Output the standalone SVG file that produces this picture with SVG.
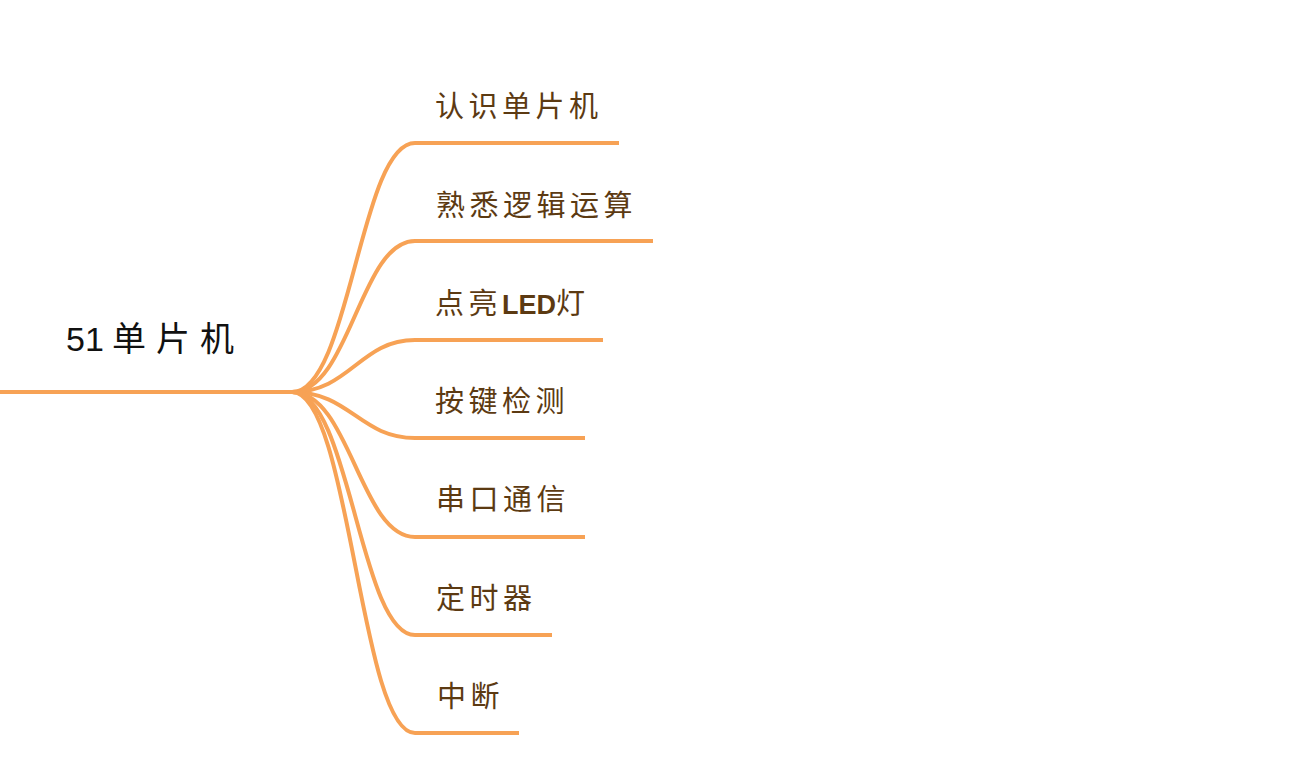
<svg xmlns="http://www.w3.org/2000/svg" width="1308" height="780" viewBox="0 0 1308 780">
<style>
.c{fill:none;stroke:#f7a255;stroke-width:4;stroke-linecap:butt}
.t{font-family:"Liberation Sans","Noto Sans CJK SC",sans-serif;font-size:29px;fill:#5c3a12;letter-spacing:4.5px}
.r{font-family:"Liberation Sans","Noto Sans CJK SC",sans-serif;font-size:34px;fill:#111}
</style>
<rect width="1308" height="780" fill="#fff"/>
<g id="connectors">
<path class="c" d="M0,392 H294"/>
<path class="c" d="M292,392 C350,392 360,143 415,143 H619"/>
<path class="c" d="M292,392 C350,392 360,241 415,241 H653"/>
<path class="c" d="M292,392 C350,392 360,340 415,340 H603"/>
<path class="c" d="M292,392 C350,392 360,438 415,438 H585"/>
<path class="c" d="M292,392 C350,392 360,537 415,537 H585"/>
<path class="c" d="M292,392 C350,392 360,635 415,635 H552"/>
<path class="c" d="M292,392 C350,392 360,733 415,733 H519"/>
</g>
<g id="root"><text class="r" y="351"><tspan x="66">51</tspan><tspan x="112">单</tspan><tspan x="156">片</tspan><tspan x="200">机</tspan></text></g>
<g id="n1"><text class="t" x="435" y="117">认识单片机</text></g>
<g id="n2"><text class="t" x="436" y="216">熟悉逻辑运算</text></g>
<g id="n3"><text class="t" x="435" y="314">点亮<tspan letter-spacing="0" font-weight="bold" font-size="27">LED</tspan>灯</text></g>
<g id="n4"><text class="t" x="435" y="412">按键检测</text></g>
<g id="n5"><text class="t" x="436" y="510">串口通信</text></g>
<g id="n6"><text class="t" x="436" y="609">定时器</text></g>
<g id="n7"><text class="t" x="437" y="707">中断</text></g>
</svg>
